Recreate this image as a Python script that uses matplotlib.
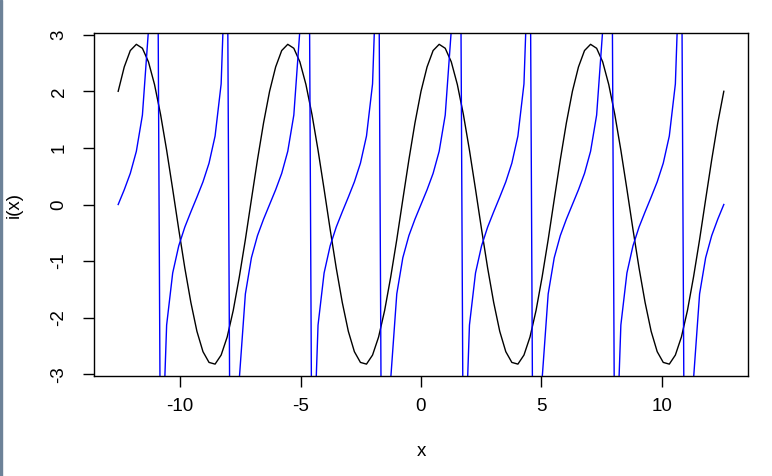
import numpy as np
import matplotlib
matplotlib.use('Agg')
import matplotlib.pyplot as plt
from matplotlib.patches import Rectangle

# x grid: 101 points from -4*pi to 4*pi (domain of the curve)
x = np.linspace(-4 * np.pi, 4 * np.pi, 101)

# i(x), black curve
i_vals = [
    2.00, 2.43, 2.72, 2.83, 2.76, 2.52, 2.12, 1.59, 0.96, 0.27,
    -0.44, -1.12, -1.73, -2.24, -2.60, -2.79, -2.82, -2.66, -2.34, -1.87,
    -1.28, -0.62, 0.09, 0.79, 1.44,
    2.00, 2.43, 2.72, 2.83, 2.76, 2.52, 2.12, 1.59, 0.96, 0.27,
    -0.44, -1.12, -1.73, -2.24, -2.60, -2.79, -2.82, -2.66, -2.34, -1.87,
    -1.28, -0.62, 0.09, 0.79, 1.44,
    2.00, 2.43, 2.72, 2.83, 2.76, 2.52, 2.12, 1.59, 0.96, 0.27,
    -0.44, -1.12, -1.73, -2.24, -2.60, -2.79, -2.82, -2.66, -2.34, -1.87,
    -1.28, -0.62, 0.09, 0.79, 1.44,
    2.00, 2.43, 2.72, 2.83, 2.76, 2.52, 2.12, 1.59, 0.96, 0.27,
    -0.44, -1.12, -1.73, -2.24, -2.60, -2.79, -2.82, -2.66, -2.34, -1.87,
    -1.28, -0.62, 0.09, 0.79, 1.44,
    2.00,
]

# blue curve
blue_vals = [
    0.00, 0.26, 0.55, 0.94, 1.58, 3.08, 15.90, -5.24, -2.13, -1.21,
    -0.73, -0.40, -0.13, 0.13, 0.40, 0.73, 1.21, 2.13, 5.24, -15.90,
    -3.08, -1.58, -0.94, -0.55, -0.26,
    0.00, 0.26, 0.55, 0.94, 1.58, 3.08, 15.90, -5.24, -2.13, -1.21,
    -0.73, -0.40, -0.13, 0.13, 0.40, 0.73, 1.21, 2.13, 5.24, -15.90,
    -3.08, -1.58, -0.94, -0.55, -0.26,
    0.00, 0.26, 0.55, 0.94, 1.58, 3.08, 15.90, -5.24, -2.13, -1.21,
    -0.73, -0.40, -0.13, 0.13, 0.40, 0.73, 1.21, 2.13, 5.24, -15.90,
    -3.08, -1.58, -0.94, -0.55, -0.26,
    0.00, 0.26, 0.55, 0.94, 1.58, 3.08, 15.90, -5.24, -2.13, -1.21,
    -0.73, -0.40, -0.13, 0.13, 0.40, 0.73, 1.21, 2.13, 5.24, -15.90,
    -3.08, -1.58, -0.94, -0.55, -0.26,
    0.00,
]

x_ticks = [-10, -5, 0, 5, 10]
y_ticks = [-3, -2, -1, 0, 1, 2, 3]

plt.rcParams['font.family'] = ['Liberation Sans', 'DejaVu Sans']
fs = 13.5

fig = plt.figure(figsize=(7.72, 4.76), dpi=100)
ax = fig.add_axes([94 / 772, 100 / 476, 654 / 772, 343 / 476])

ax.plot(x, i_vals, color='black', lw=1)
ax.plot(x, blue_vals, color='blue', lw=1)

ax.set_xlim(-13.57, 13.57)
ax.set_ylim(-3.03, 3.03)

ax.set_xticks(x_ticks)
ax.set_yticks(y_ticks)
ax.set_xticklabels([str(t) for t in x_ticks], fontsize=fs)
ax.set_yticklabels([str(t) for t in y_ticks], fontsize=fs, rotation=90, va='center')
ax.tick_params(length=8, width=1)
ax.tick_params(axis='y', pad=11)
ax.tick_params(axis='x', pad=8)

for s in ax.spines.values():
    s.set_linewidth(1)

ax.set_xlabel('x', fontsize=fs, labelpad=20)
ax.set_ylabel('i(x)', fontsize=fs, labelpad=20)

# thin strip at the left edge of the picture
fig.patches.append(Rectangle((0, 0), 2 / 772, 1, transform=fig.transFigure,
                             color='#6d8298', zorder=10))

plt.savefig('out.png', dpi=100)
